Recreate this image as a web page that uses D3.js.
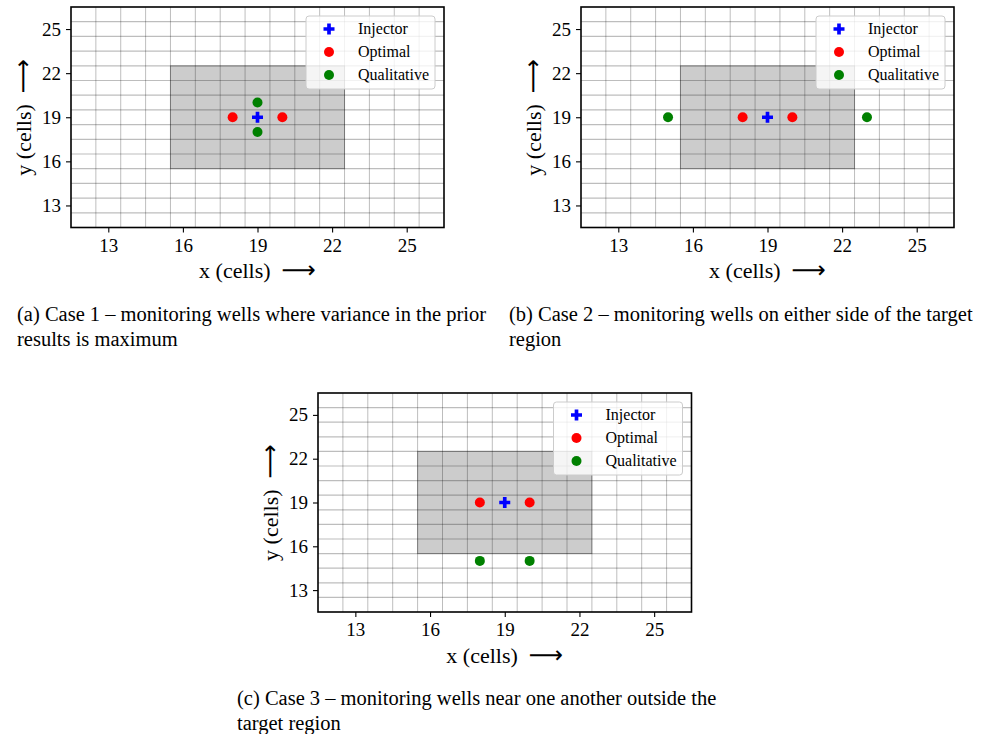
<!DOCTYPE html>
<html>
<head>
<meta charset="utf-8">
<script src="https://cdn.jsdelivr.net/npm/d3@7"></script>
<style>
  html, body { margin: 0; padding: 0; background: #fff; }
  svg { display: block; }
  text { font-family: "Liberation Serif", "Times New Roman", serif; fill: #000; }
</style>
</head>
<body>
<svg id="fig" width="989" height="734"></svg>
<script>
// Cell grid extent (cells are centred on integers)
const cellDomain = [11.5, 26.5];
const xTicks = [13, 16, 19, 22, 25];
const yTicks = [13, 16, 19, 22, 25];

// Target region bounds: [x0, x1, y0, y1]
const targetRegion = [15.5, 22.5, 15.5, 22.5];

// Well locations (x, y) in cells
const injector = [[19, 19]];
const optimal = [[18, 19], [20, 19]];
const qualitativeCase1 = [[19, 20], [19, 18]];
const qualitativeCase2 = [[15, 19], [23, 19]];
const qualitativeCase3 = [[18, 15], [20, 15]];

const legendLabels = ["Injector", "Optimal", "Qualitative"];

const captionsCase1 = ["(a) Case 1 \u2013 monitoring wells where variance in the prior", "results is maximum"];
const captionsCase2 = ["(b) Case 2 \u2013 monitoring wells on either side of the target", "region"];
const captionsCase3 = ["(c) Case 3 \u2013 monitoring wells near one another outside the", "target region"];

const colors = { injector: "#0000ff", optimal: "#ff0000", qualitative: "#008000" };

const panels = [
  { box: [71, 7, 444, 227.5], qualitative: qualitativeCase1, caption: captionsCase1, capX: 17, capY: 321 },
  { box: [581, 7, 954, 227.5], qualitative: qualitativeCase2, caption: captionsCase2, capX: 509, capY: 321 },
  { box: [318, 393, 691.5, 612], qualitative: qualitativeCase3, caption: captionsCase3, capX: 237, capY: 705 }
];

const svg = d3.select("#fig");

// Filled "plus" marker path centred at the origin
function plusPath(s) {
  const a = s / 2, b = s / 6;
  return `M${-b},${-a}H${b}V${-b}H${a}V${b}H${b}V${a}H${-b}V${b}H${-a}V${-b}H${-b}Z`;
}

const gap = "\u00a0\u00a0";

panels.forEach(p => {
  const [x0, y0, x1, y1] = p.box;
  const x = d3.scaleLinear().domain(cellDomain).range([x0, x1]);
  const y = d3.scaleLinear().domain(cellDomain).range([y1, y0]);
  const g = svg.append("g");

  // Target region
  g.append("rect")
    .attr("x", x(targetRegion[0])).attr("y", y(targetRegion[3]))
    .attr("width", x(targetRegion[1]) - x(targetRegion[0]))
    .attr("height", y(targetRegion[2]) - y(targetRegion[3]))
    .attr("fill", "#cccccc")
    .attr("stroke", "#000").attr("stroke-opacity", 0.3).attr("stroke-width", 1);

  // Cell boundaries
  const edges = d3.range(cellDomain[0] + 1, cellDomain[1], 1);
  g.append("g").selectAll("line.v").data(edges).join("line")
    .attr("x1", d => x(d)).attr("x2", d => x(d))
    .attr("y1", y0).attr("y2", y1)
    .attr("stroke", "#000").attr("stroke-opacity", 0.26).attr("stroke-width", 1);
  g.append("g").selectAll("line.h").data(edges).join("line")
    .attr("y1", d => y(d)).attr("y2", d => y(d))
    .attr("x1", x0).attr("x2", x1)
    .attr("stroke", "#000").attr("stroke-opacity", 0.26).attr("stroke-width", 1.2);

  // Axes
  const xAxis = d3.axisBottom(x).tickValues(xTicks).tickSize(5).tickPadding(6);
  const yAxis = d3.axisLeft(y).tickValues(yTicks).tickSize(5).tickPadding(5);
  const gx = g.append("g").attr("transform", `translate(0,${y1})`).call(xAxis);
  const gy = g.append("g").attr("transform", `translate(${x0},0)`).call(yAxis);
  [gx, gy].forEach(a => {
    a.select(".domain").remove();
    a.selectAll(".tick line").attr("stroke", "#000").attr("stroke-width", 1.1);
    a.selectAll(".tick text").attr("font-family", "Liberation Serif").attr("font-size", 19).attr("fill", "#000");
  });

  // Frame
  g.append("rect").attr("x", x0).attr("y", y0).attr("width", x1 - x0).attr("height", y1 - y0)
    .attr("fill", "none").attr("stroke", "#000").attr("stroke-width", 1.6);

  // Wells
  g.append("g").selectAll("circle.q").data(p.qualitative).join("circle")
    .attr("cx", d => x(d[0])).attr("cy", d => y(d[1])).attr("r", 5)
    .attr("fill", colors.qualitative);
  g.append("g").selectAll("circle.o").data(optimal).join("circle")
    .attr("cx", d => x(d[0])).attr("cy", d => y(d[1])).attr("r", 5)
    .attr("fill", colors.optimal);
  g.append("g").selectAll("path.i").data(injector).join("path")
    .attr("d", plusPath(11))
    .attr("transform", d => `translate(${x(d[0])},${y(d[1])})`)
    .attr("fill", colors.injector);

  // Axis labels
  const xl = g.append("text")
    .attr("x", (x0 + x1) / 2).attr("y", y1 + 50.5)
    .attr("text-anchor", "middle").attr("font-size", 22)
    .text("x (cells)" + gap);
  xl.append("tspan").attr("font-family", "DejaVu Sans").attr("font-size", 24).text("\u27F6");
  const yl = g.append("text")
    .attr("transform", `translate(${x0 - 40},${(y0 + y1) / 2}) rotate(-90)`)
    .attr("text-anchor", "middle").attr("font-size", 22)
    .text("y (cells)" + gap);
  yl.append("tspan").attr("font-family", "DejaVu Sans").attr("font-size", 24).text("\u27F6");

  // Legend
  const lg = g.append("g").attr("transform", `translate(${x1 - 138},${y0 + 9})`);
  lg.append("rect").attr("width", 129).attr("height", 73).attr("rx", 3)
    .attr("fill", "#fff").attr("fill-opacity", 0.8)
    .attr("stroke", "#cccccc").attr("stroke-width", 1);
  const rows = [
    { label: legendLabels[0], kind: "plus", color: colors.injector },
    { label: legendLabels[1], kind: "circle", color: colors.optimal },
    { label: legendLabels[2], kind: "circle", color: colors.qualitative }
  ];
  rows.forEach((r, i) => {
    const cy = 13 + i * 23;
    if (r.kind === "plus") {
      lg.append("path").attr("d", plusPath(11)).attr("transform", `translate(23,${cy})`).attr("fill", r.color);
    } else {
      lg.append("circle").attr("cx", 23).attr("cy", cy).attr("r", 5).attr("fill", r.color);
    }
    lg.append("text").attr("x", 52).attr("y", cy).attr("dy", "0.34em")
      .attr("font-size", 16).text(r.label);
  });

  // Caption
  const cap = svg.append("text").attr("x", p.capX).attr("y", p.capY).attr("font-size", 20.5);
  p.caption.forEach((line, i) => {
    cap.append("tspan").attr("x", p.capX).attr("dy", i === 0 ? 0 : 25).text(line);
  });
});
</script>
</body>
</html>
